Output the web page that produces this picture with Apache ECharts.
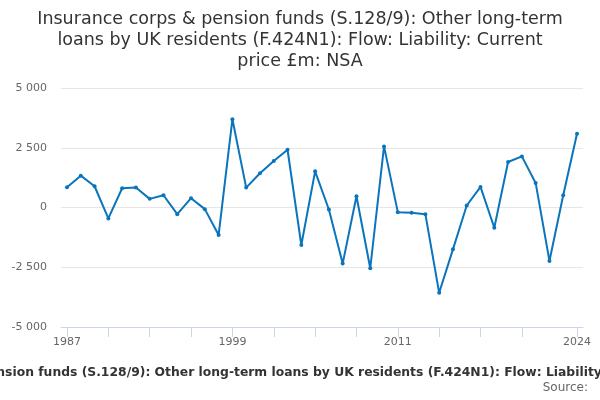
<!DOCTYPE html>
<html>
<head>
<meta charset="utf-8">
<script src="https://cdn.jsdelivr.net/npm/echarts@6/dist/echarts.min.js"></script>
<style>html,body{margin:0;padding:0;background:#fff}#c{width:600px;height:400px}</style>
</head>
<body>
<div id="c"></div>
<script>
const years = [1987,1988,1989,1990,1991,1992,1993,1994,1995,1996,1997,1998,1999,2000,2001,2002,2003,2004,2005,2006,2007,2008,2009,2010,2011,2012,2013,2014,2015,2016,2017,2018,2019,2020,2021,2022,2023,2024];
const values = [847,1333,889,-458,806,833,361,514,-278,389,-69,-1153,3694,833,1431,1944,2417,-1569,1514,-83,-2347,472,-2542,2556,-194,-222,-278,-3569,-1750,83,861,-847,1903,2139,1028,-2236,514,3083];
const xLabelYears = [1987,1999,2011,2024];
const xTickYears = [1987,1990,1993,1996,1999,2002,2005,2008,2011,2014,2017,2020,2024];
const yTicks = [-5000,-2500,0,2500,5000];
const titleText = 'Insurance corps & pension funds (S.128/9): Other long-term\nloans by UK residents (F.424N1): Flow: Liability: Current\nprice £m: NSA';
const axisTitle = 'Insurance corps & pension funds (S.128/9): Other long-term loans by UK residents (F.424N1): Flow: Liability: Current price £m: NSA';

const fmt = v => {
  const s = Math.abs(v).toString().replace(/\B(?=(\d{3})+(?!\d))/g, ' ');
  return (v < 0 ? '-' : '') + s;
};

const chart = echarts.init(document.getElementById('c'), null, {renderer: 'canvas'});
chart.setOption({
  animation: false,
  textStyle: {fontFamily: 'DejaVu Sans'},
  title: {
    text: titleText,
    left: 'center',
    top: 4,
    textStyle: {fontSize: 17.5, fontWeight: 'normal', color: '#333333', lineHeight: 21, fontFamily: 'DejaVu Sans'}
  },
  grid: {left: 61, right: 17, top: 88, bottom: 73, containLabel: false, outerBoundsMode: 'none'},
  xAxis: {
    type: 'value',
    min: 1986.565,
    max: 2024.435,
    axisLine: {show: true, onZero: false, lineStyle: {color: '#ccd6eb', width: 1}},
    axisTick: {show: true, customValues: xTickYears, length: 10, lineStyle: {color: '#ccd6eb'}},
    axisLabel: {customValues: xLabelYears, color: '#666666', fontSize: 11, margin: 10, formatter: v => String(v)},
    splitLine: {show: false},
    z: 3
  },
  yAxis: {
    type: 'value',
    min: -5000,
    max: 5000,
    interval: 2500,
    axisLine: {show: false},
    axisTick: {show: false},
    axisLabel: {color: '#666666', fontSize: 11, margin: 14, formatter: v => fmt(v)},
    splitLine: {lineStyle: {color: '#e6e6e6', width: 1}}
  },
  graphic: [{
    type: 'text',
    x: 308,
    y: 373,
    style: {text: axisTitle, fill: '#333333', font: 'bold 12.35px "DejaVu Sans"', align: 'center', verticalAlign: 'middle'}
  }, {
    type: 'text',
    right: 12,
    top: 382,
    style: {text: 'Source:', fill: '#666666', font: '12px "DejaVu Sans"'}
  }],
  series: [{
    type: 'line',
    data: years.map((y, i) => [y, values[i]]),
    lineStyle: {color: '#0a75bc', width: 2},
    itemStyle: {color: '#0a75bc'},
    symbol: 'circle',
    symbolSize: 4,
    showSymbol: true
  }]
});
</script>
</body>
</html>
